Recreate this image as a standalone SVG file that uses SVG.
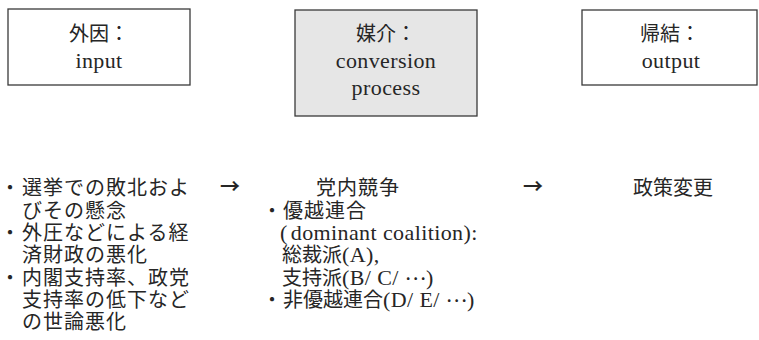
<svg xmlns="http://www.w3.org/2000/svg" width="759" height="340" viewBox="0 0 759 340">
<style>
.box{fill:#fff;stroke:#3a3a3a;stroke-width:1.3}
.gray{fill:#e6e6e6}
.j{font-family:"Noto Sans CJK JP","Liberation Serif",sans-serif;font-size:20px;fill:#262626}
.l{font-family:"Liberation Serif","Noto Sans CJK JP",serif;font-size:22px;fill:#262626;letter-spacing:0.4px}
.c{text-anchor:middle}
.arrow{font-family:"Noto Sans CJK JP",sans-serif;font-size:20px;font-weight:bold;fill:#262626;text-anchor:middle}
</style>
<g id="node-input">
<rect class="box" x="8" y="9" width="182" height="76"/>
<text class="j c" x="99" y="41">外因：</text>
<text class="l c" x="99" y="68">input</text>
</g>
<g id="node-conversion">
<rect class="box gray" x="295" y="10" width="182" height="106"/>
<text class="j c" x="386" y="41">媒介：</text>
<text class="l c" x="386" y="68">conversion</text>
<text class="l c" x="386" y="95">process</text>
</g>
<g id="node-output">
<rect class="box" x="582" y="10" width="175" height="75"/>
<text class="j c" x="670" y="41">帰結：</text>
<text class="l c" x="671" y="68">output</text>
</g>
<g id="connectors">
<text class="arrow" x="230" y="194">→</text>
<text class="arrow" x="533" y="194">→</text>
</g>
<g id="causes">
<text class="j" x="0" y="195">・</text><text class="j" x="22" y="195" letter-spacing="1">選挙での敗北およ</text>
<text class="j" x="22" y="218" letter-spacing="1">びその懸念</text>
<text class="j" x="0" y="240">・</text><text class="j" x="22" y="240" letter-spacing="1">外圧などによる経</text>
<text class="j" x="22" y="262" letter-spacing="1">済財政の悪化</text>
<text class="j" x="0" y="285">・</text><text class="j" x="22" y="285" letter-spacing="1">内閣支持率、政党</text>
<text class="j" x="22" y="307" letter-spacing="1">支持率の低下など</text>
<text class="j" x="22" y="329" letter-spacing="1">の世論悪化</text>
</g>
<g id="process">
<text class="j" x="316" y="195" letter-spacing="1">党内競争</text>
<text class="j" x="262" y="218">・</text><text class="j" x="283" y="218" letter-spacing="1">優越連合</text>
<text class="l" x="280" y="240" letter-spacing="0">(<tspan dx="3">dominant coalition):</tspan></text>
<text class="j" x="282" y="262">総裁派<tspan class="l" font-size="21">(A),</tspan></text>
<text class="j" x="282" y="285">支持派<tspan class="l" font-size="21">(B/ C/ </tspan><tspan dy="-5">…</tspan><tspan class="l" font-size="21" dy="5">)</tspan></text>
<text class="j" x="262" y="307">・</text><text class="j" x="283" y="307">非優越連合<tspan class="l" font-size="21">(D/ E/ </tspan><tspan dy="-5">…</tspan><tspan class="l" font-size="21" dy="5">)</tspan></text>
</g>
<g id="result">
<text class="j" x="633" y="195">政策変更</text>
</g>
</svg>
